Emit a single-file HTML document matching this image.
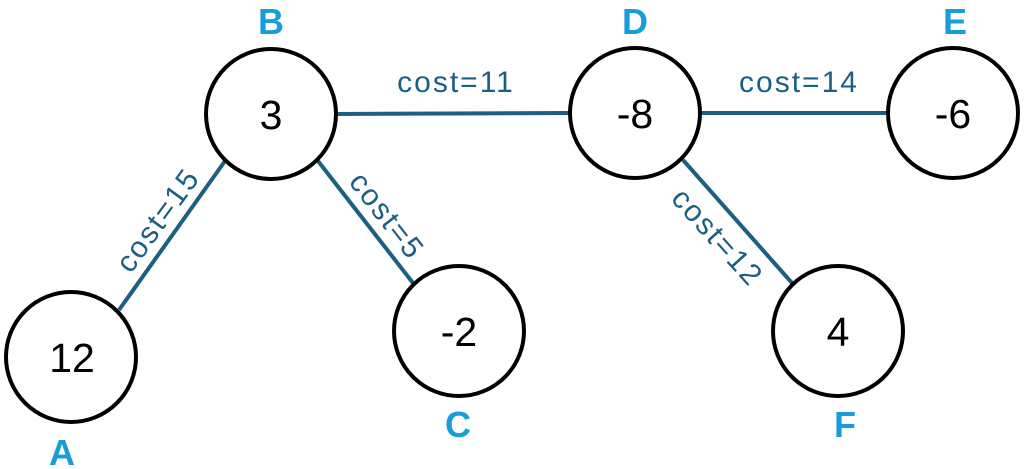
<!DOCTYPE html>
<html><head><meta charset="utf-8"><style>
html,body{margin:0;padding:0;background:#fff;}
svg{display:block;}
text{font-family:"Liberation Sans",sans-serif;}
</style></head><body>
<svg width="1024" height="469" viewBox="0 0 1024 469" xmlns="http://www.w3.org/2000/svg">
<g stroke="#1d5f82" stroke-width="4">
<line x1="119" y1="310" x2="225" y2="161"/>
<line x1="318" y1="161" x2="413" y2="283"/>
<line x1="337" y1="114" x2="569" y2="113"/>
<line x1="701" y1="113" x2="888" y2="113"/>
<line x1="683" y1="160" x2="792" y2="283"/>
</g>
<g fill="#fff" stroke="#000" stroke-width="4">
<circle cx="71" cy="357" r="65"/>
<circle cx="271" cy="114" r="65"/>
<circle cx="459" cy="331" r="65"/>
<circle cx="635" cy="113" r="65"/>
<circle cx="953" cy="113" r="65"/>
<circle cx="838" cy="331" r="65"/>
</g>
<g font-size="41" fill="#000" text-anchor="middle">
<text x="72" y="372">12</text>
<text x="271" y="129">3</text>
<text x="459" y="346">-2</text>
<text x="635" y="128">-8</text>
<text x="953" y="128">-6</text>
<text x="838" y="346">4</text>
</g>
<g font-size="36" font-weight="bold" fill="#189dd8" text-anchor="middle">
<text x="271" y="34">B</text>
<text x="635" y="34">D</text>
<text x="955" y="34">E</text>
<text x="62" y="465">A</text>
<text x="458" y="437">C</text>
<text x="845" y="437">F</text>
</g>
<g font-size="30" fill="#1d5f82" text-anchor="middle" letter-spacing="2">
<text x="456" y="92">cost=11</text>
<text x="799" y="92">cost=14</text>
<text transform="translate(166,226) rotate(-54)">cost=15</text>
<text transform="translate(379,222) rotate(52)">cost=5</text>
<text transform="translate(710,244) rotate(48)">cost=12</text>
</g>
</svg>
</body></html>
